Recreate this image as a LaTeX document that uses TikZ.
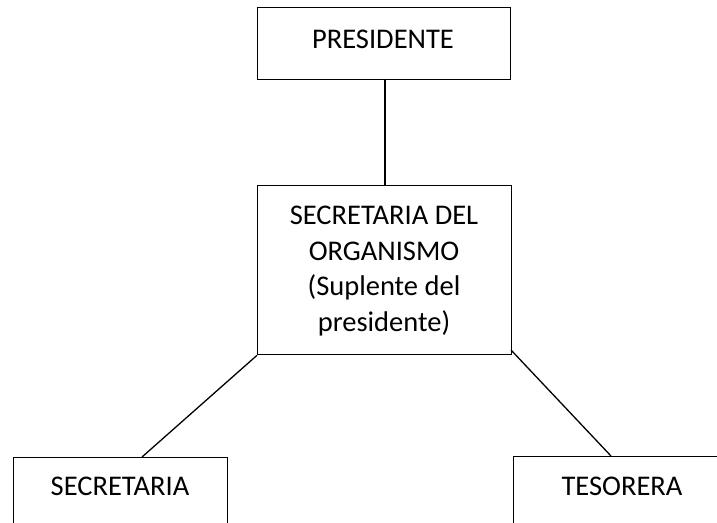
\documentclass[tikz,border=0pt]{standalone}
\usepackage{fontspec}
\setmainfont{Carlito}
\begin{document}
\begin{tikzpicture}[x=1pt,y=-1pt,
  box/.style={draw=black,line width=1.3pt,rectangle,inner sep=0pt,anchor=north west},
  lbl/.style={font=\fontsize{28.5}{35.5}\selectfont,align=center,inner sep=0pt},
  conn/.style={draw=black,line width=1.3pt}]
\useasboundingbox (0,0) rectangle (717,522);
\clip (0,0) rectangle (717,522);
\fill[white] (0,0) rectangle (717,522);
% boxes
\node[box,minimum width=253pt,minimum height=72pt] (pres) at (257,7) {};
\node[box,minimum width=254pt,minimum height=169pt] (mid) at (257,185) {};
\node[box,minimum width=214pt,minimum height=90pt] (sec) at (13,457) {};
\node[box,minimum width=230pt,minimum height=67pt] (tes) at (513,456) {};
% labels
\node[lbl,anchor=base] (presT) at (383,48) {PRESIDENTE};
\node[lbl,anchor=base] (midT1) at (384,224) {SECRETARIA DEL};
\node[lbl,anchor=base] (midT2) at (384,260) {ORGANISMO};
\node[lbl,anchor=base] (midT3) at (384,295) {(Suplente del};
\node[lbl,anchor=base] (midT4) at (384,331) {presidente)};
\node[lbl,anchor=base] (secT) at (120,495) {SECRETARIA};
\node[lbl,anchor=base] (tesT) at (622,495) {TESORERA};
% connector end points
\coordinate (presB) at (385,79);
\coordinate (midTop) at (385,185);
\coordinate (midR) at (511,350);
\coordinate (secTop) at (142,457);
\coordinate (tesTop) at (611,456);
\draw[conn] (presB) -- (midTop);
\draw[conn] (mid.south west) -- (secTop);
\draw[conn] (midR) -- (tesTop);
\end{tikzpicture}
\end{document}
